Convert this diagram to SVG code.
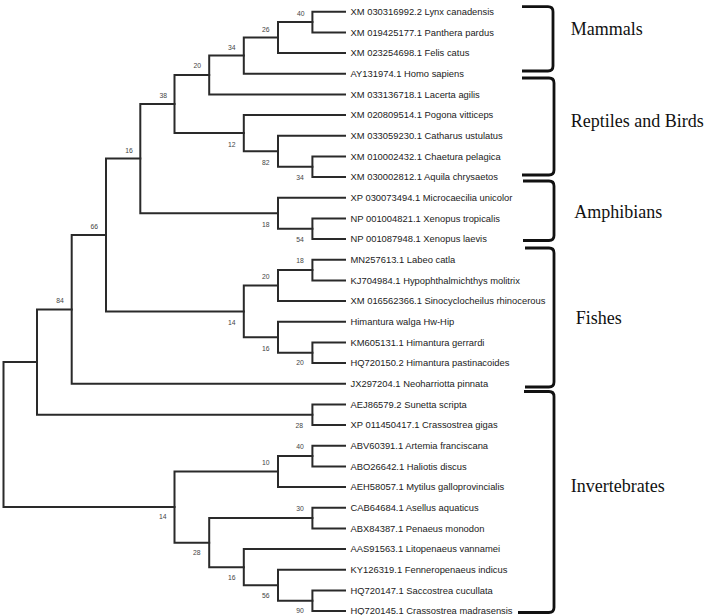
<svg xmlns="http://www.w3.org/2000/svg" width="708" height="615" viewBox="0 0 708 615">
<style>
.br{fill:none;stroke:#2a2a2a;stroke-width:2;stroke-linecap:square}
.lf{font-family:"Liberation Sans",Arial,sans-serif;font-size:9.4px;fill:#222}
.bs{font-family:"Liberation Sans",Arial,sans-serif;font-size:6.8px;fill:#444;text-anchor:middle}
.bk{fill:none;stroke:#111;stroke-width:2.8;stroke-linejoin:round}
.gl{font-family:"Liberation Serif","Times New Roman",serif;font-size:18px;fill:#111}
</style>
<rect width="708" height="615" fill="#fff"/>
<g id="connectors">
<path class="br" d="M345 11.7 H312.4 V32.4 H345"/>
<path class="br" d="M312.4 22.05 H278 V53.0 H345"/>
<path class="br" d="M278 37.5 H243.8 V73.7 H345"/>
<path class="br" d="M243.8 55.6 H209.2 V94.4 H345"/>
<path class="br" d="M345 156.4 H312.4 V177.1 H345"/>
<path class="br" d="M345 135.7 H278 V166.7 H312.4"/>
<path class="br" d="M345 115.1 H243.8 V151.2 H278"/>
<path class="br" d="M209.2 75.0 H174.5 V133.1 H243.8"/>
<path class="br" d="M345 218.4 H312.4 V239.1 H345"/>
<path class="br" d="M345 197.7 H278 V228.7 H312.4"/>
<path class="br" d="M174.5 104.1 H140.3 V213.2 H278"/>
<path class="br" d="M345 259.7 H312.4 V280.4 H345"/>
<path class="br" d="M312.4 270.1 H278 V301.1 H345"/>
<path class="br" d="M345 342.4 H312.4 V363.1 H345"/>
<path class="br" d="M345 321.8 H278 V352.8 H312.4"/>
<path class="br" d="M278 285.6 H243.8 V337.3 H278"/>
<path class="br" d="M140.3 158.6 H106 V311.4 H243.8"/>
<path class="br" d="M106 235.0 H71.7 V383.8 H345"/>
<path class="br" d="M345 404.4 H312.4 V425.1 H345"/>
<path class="br" d="M71.7 309.4 H37 V414.8 H312.4"/>
<path class="br" d="M345 445.8 H312.4 V466.4 H345"/>
<path class="br" d="M312.4 456.1 H278 V487.1 H345"/>
<path class="br" d="M345 507.8 H312.4 V528.5 H345"/>
<path class="br" d="M345 590.5 H312.4 V611.1 H345"/>
<path class="br" d="M345 569.8 H278 V600.8 H312.4"/>
<path class="br" d="M345 549.1 H243.8 V585.3 H278"/>
<path class="br" d="M312.4 518.1 H209.2 V567.2 H243.8"/>
<path class="br" d="M278 471.6 H174.5 V542.7 H209.2"/>
<path class="br" d="M37 362.1 H3.5 V507.1 H174.5"/>
</g>
<g id="bootstrap">
<text class="bs" x="300.7" y="15.8">40</text>
<text class="bs" x="265.7" y="31.8">26</text>
<text class="bs" x="231.7" y="49.8">34</text>
<text class="bs" x="197.3" y="68.2">20</text>
<text class="bs" x="163.3" y="97.5">38</text>
<text class="bs" x="231.7" y="146.5">12</text>
<text class="bs" x="129" y="152.5">16</text>
<text class="bs" x="265.7" y="165.2">82</text>
<text class="bs" x="300" y="179.8">34</text>
<text class="bs" x="265.7" y="226.5">18</text>
<text class="bs" x="300" y="241.8">54</text>
<text class="bs" x="94.3" y="228.5">66</text>
<text class="bs" x="300" y="263.2">18</text>
<text class="bs" x="265.7" y="279.2">20</text>
<text class="bs" x="60" y="302.5">84</text>
<text class="bs" x="231.7" y="324.8">14</text>
<text class="bs" x="265.7" y="350.8">16</text>
<text class="bs" x="300" y="365.2">20</text>
<text class="bs" x="299.3" y="428.2">28</text>
<text class="bs" x="300" y="449.2">40</text>
<text class="bs" x="265.7" y="465.2">10</text>
<text class="bs" x="300" y="510.8">30</text>
<text class="bs" x="162.7" y="519.2">14</text>
<text class="bs" x="196.7" y="555.2">28</text>
<text class="bs" x="231.7" y="579.8">16</text>
<text class="bs" x="265.7" y="598.2">56</text>
<text class="bs" x="300" y="613.2">90</text>
</g>
<g id="leaves">
<g id="leaf1"><text class="lf" x="350.5" y="15">XM 030316992.2 Lynx canadensis</text></g>
<g id="leaf2"><text class="lf" x="350.5" y="35.7">XM 019425177.1 Panthera pardus</text></g>
<g id="leaf3"><text class="lf" x="350.5" y="56.3">XM 023254698.1 Felis catus</text></g>
<g id="leaf4"><text class="lf" x="350.5" y="77">AY131974.1 Homo sapiens</text></g>
<g id="leaf5"><text class="lf" x="350.5" y="97.7">XM 033136718.1 Lacerta agilis</text></g>
<g id="leaf6"><text class="lf" x="350.5" y="118.4">XM 020809514.1 Pogona vitticeps</text></g>
<g id="leaf7"><text class="lf" x="350.5" y="139">XM 033059230.1 Catharus ustulatus</text></g>
<g id="leaf8"><text class="lf" x="350.5" y="159.7">XM 010002432.1 Chaetura pelagica</text></g>
<g id="leaf9"><text class="lf" x="350.5" y="180.4">XM 030002812.1 Aquila chrysaetos</text></g>
<g id="leaf10"><text class="lf" x="350.5" y="201">XP 030073494.1 Microcaecilia unicolor</text></g>
<g id="leaf11"><text class="lf" x="350.5" y="221.7">NP 001004821.1 Xenopus tropicalis</text></g>
<g id="leaf12"><text class="lf" x="350.5" y="242.4">NP 001087948.1 Xenopus laevis</text></g>
<g id="leaf13"><text class="lf" x="350.5" y="263">MN257613.1 Labeo catla</text></g>
<g id="leaf14"><text class="lf" x="350.5" y="283.7">KJ704984.1 Hypophthalmichthys molitrix</text></g>
<g id="leaf15"><text class="lf" x="350.5" y="304.4">XM 016562366.1 Sinocyclocheilus rhinocerous</text></g>
<g id="leaf16"><text class="lf" x="350.5" y="325.1">Himantura walga Hw-Hip</text></g>
<g id="leaf17"><text class="lf" x="350.5" y="345.7">KM605131.1 Himantura gerrardi</text></g>
<g id="leaf18"><text class="lf" x="350.5" y="366.4">HQ720150.2 Himantura pastinacoides</text></g>
<g id="leaf19"><text class="lf" x="350.5" y="387.1">JX297204.1 Neoharriotta pinnata</text></g>
<g id="leaf20"><text class="lf" x="350.5" y="407.7">AEJ86579.2 Sunetta scripta</text></g>
<g id="leaf21"><text class="lf" x="350.5" y="428.4">XP 011450417.1 Crassostrea gigas</text></g>
<g id="leaf22"><text class="lf" x="350.5" y="449.1">ABV60391.1 Artemia franciscana</text></g>
<g id="leaf23"><text class="lf" x="350.5" y="469.7">ABO26642.1 Haliotis discus</text></g>
<g id="leaf24"><text class="lf" x="350.5" y="490.4">AEH58057.1 Mytilus galloprovincialis</text></g>
<g id="leaf25"><text class="lf" x="350.5" y="511.1">CAB64684.1 Asellus aquaticus</text></g>
<g id="leaf26"><text class="lf" x="350.5" y="531.8">ABX84387.1 Penaeus monodon</text></g>
<g id="leaf27"><text class="lf" x="350.5" y="552.4">AAS91563.1 Litopenaeus vannamei</text></g>
<g id="leaf28"><text class="lf" x="350.5" y="573.1">KY126319.1 Fenneropenaeus indicus</text></g>
<g id="leaf29"><text class="lf" x="350.5" y="593.8">HQ720147.1 Saccostrea cucullata</text></g>
<g id="leaf30"><text class="lf" x="350.5" y="614.4">HQ720145.1 Crassostrea madrasensis</text></g>
</g>
<g id="group-mammals">
<path class="bk" d="M522 6.7 H548 Q553 6.7 553 11.7 V66 Q553 71 548 71 H522"/>
<text class="gl" x="570.7" y="35">Mammals</text>
</g>
<g id="group-reptiles-birds">
<path class="bk" d="M522 78 H549 Q554 78 554 83 V170 Q554 175 549 175 H522"/>
<text class="gl" x="570.7" y="126.7">Reptiles and Birds</text>
</g>
<g id="group-amphibians">
<path class="bk" d="M523 181 H549 Q554 181 554 186 V235.5 Q554 240.5 549 240.5 H523"/>
<text class="gl" x="574.3" y="218.3">Amphibians</text>
</g>
<g id="group-fishes">
<path class="bk" d="M525 248 H549 Q554 248 554 253 V382 Q554 387 549 387 H525"/>
<text class="gl" x="575.7" y="324.3">Fishes</text>
</g>
<g id="group-invertebrates">
<path class="bk" d="M524 391.5 H549 Q554 391.5 554 396.5 V607.5 Q554 612.5 549 612.5 H518"/>
<text class="gl" x="570.7" y="492.3">Invertebrates</text>
</g>
</svg>
